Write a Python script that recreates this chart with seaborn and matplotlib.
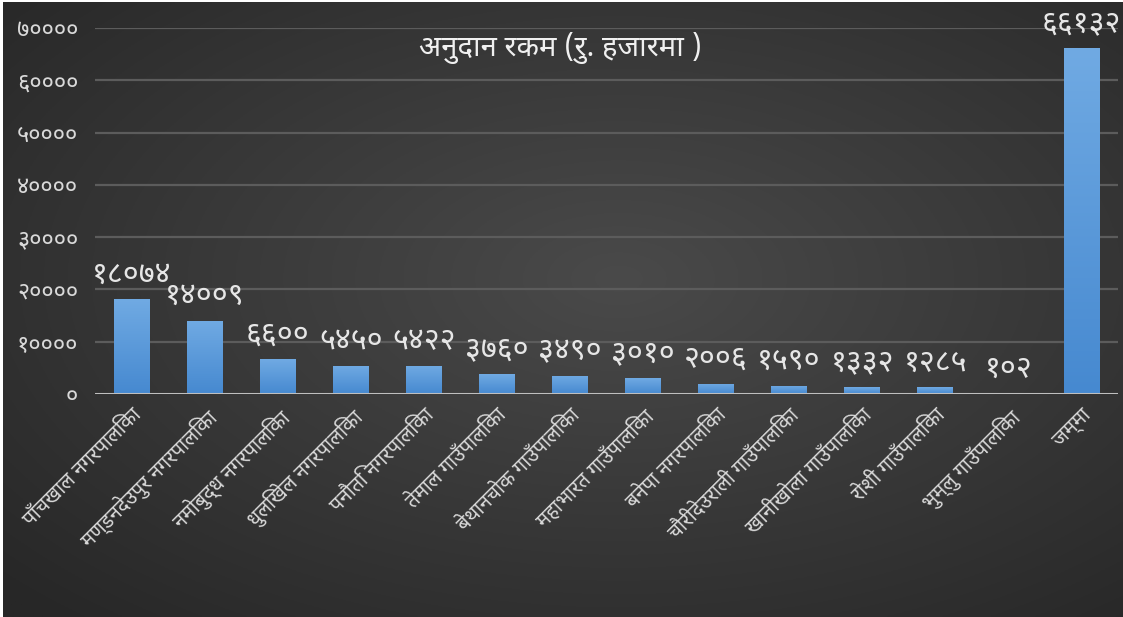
import numpy as np
import pandas as pd
import matplotlib
matplotlib.use("Agg")
import matplotlib.pyplot as plt
import seaborn as sns
from matplotlib import font_manager as fm
from matplotlib.colors import LinearSegmentedColormap

# ---- data ----
categories = [
    "पाँचखाल नगरपालिका",
    "मण्डनदेउपुर नगरपालिका",
    "नमोबुद्ध नगरपालिका",
    "धुलिखेल नगरपालिका",
    "पनौति नगरपालिका",
    "तेमाल गाउँपालिका",
    "बेथानचोक गाउँपालिका",
    "महाभारत गाउँपालिका",
    "बनेपा नगरपालिका",
    "चौरीदेउराली गाउँपालिका",
    "खानीखोला गाउँपालिका",
    "रोशी गाउँपालिका",
    "भुम्लु गाउँपालिका",
    "जम्मा",
]
values = [18074, 14009, 6600, 5450, 5422, 3760, 3490, 3010, 2006, 1590, 1332, 1285, 102, 66132]
y_ticks = [0, 10000, 20000, 30000, 40000, 50000, 60000, 70000]
title = "अनुदान रकम (रु. हजारमा )"

DEV = str.maketrans("0123456789", "०१२३४५६७८९")


def dev(n):
    return str(n).translate(DEV)


sns.set_theme(style="dark")
installed = {f.name for f in fm.fontManager.ttflist}
dev_font = None
for cand in ["Noto Sans Devanagari", "Hind", "Mukta", "Yantramanav", "Poppins"]:
    if cand in installed:
        dev_font = cand
        break
plt.rcParams["font.family"] = ([dev_font] if dev_font else []) + ["DejaVu Sans"]

df = pd.DataFrame({"name": categories, "value": values})

W, H = 1123, 617
fig = plt.figure(figsize=(W / 100, H / 100), dpi=100)
fig.patch.set_facecolor("white")

# background gradient
bg = fig.add_axes([3 / W, 0, 1 - 3 / W, 1 - 2 / H], zorder=-10)
yy, xx = np.mgrid[0:1:300j, 0:1:500j]
r = np.sqrt(((xx - 0.55) / 0.75) ** 2 + ((yy - 0.45) / 0.75) ** 2)
g = np.clip(1 - r, 0, 1)
lo, hi = np.array([0x27, 0x27, 0x27]) / 255, np.array([0x4a, 0x4a, 0x4a]) / 255
img = lo + (hi - lo) * g[..., None]
bg.imshow(img, aspect="auto", extent=[0, 1, 0, 1], origin="upper")
bg.set_axis_off()

ax = fig.add_axes([95 / W, (H - 394) / H, (1118 - 95) / W, (394 - 28) / H])
ax.set_facecolor("none")

sns.barplot(data=df, x="name", y="value", color="#5b9bd9", width=0.49,
            saturation=1, ax=ax, zorder=3, edgecolor="none", linewidth=0)

ax.set_ylim(0, 70000)
ax.set_xlim(-0.5, len(categories) - 0.5)

# vertical gradient on each bar
bar_cmap = LinearSegmentedColormap.from_list("bar", ["#4689d0", "#70aae3"])
grad = np.linspace(0, 1, 128).reshape(-1, 1)
for p in list(ax.patches):
    x0, w_, h_ = p.get_x(), p.get_width(), p.get_height()
    if h_ <= 0:
        continue
    im = ax.imshow(grad, cmap=bar_cmap, origin="lower", aspect="auto",
                   extent=[x0, x0 + w_, 0, h_], zorder=3.5)
    im.set_clip_path(p)
ax.set_xlim(-0.5, len(categories) - 0.5)
ax.set_ylim(0, 70000)
ax.set_aspect("auto")

ax.set_yticks(y_ticks)
ax.set_yticklabels([dev(t) for t in y_ticks], color="#d9d9d9", fontsize=17)
ax.tick_params(axis="y", length=0, pad=12)
ax.tick_params(axis="x", length=0, pad=8)
ax.set_xticks(range(len(categories)))
ax.set_xticklabels(categories, rotation=45, ha="right", rotation_mode="anchor",
                   color="#d9d9d9", fontsize=14.5)
ax.set_xlabel("")
ax.set_ylabel("")
ax.grid(False)
for t in y_ticks[1:]:
    ax.axhline(t, color="#5c5c5c", lw=1.6, zorder=1)
ax.axhline(0, color="#bfbfbf", lw=2.2, zorder=4)
for s in ax.spines.values():
    s.set_visible(False)

# value labels
for i, v in enumerate(values):
    ax.annotate(dev(v), (i, v), xytext=(0, 7), textcoords="offset points",
                ha="center", va="bottom", color="#e6e6e6", fontsize=22, zorder=5)

ax.text(0.455, 0.945, title, transform=ax.transAxes, ha="center", va="center",
        color="#f0f0f0", fontsize=21)

fig.savefig("out.png", dpi=100)
